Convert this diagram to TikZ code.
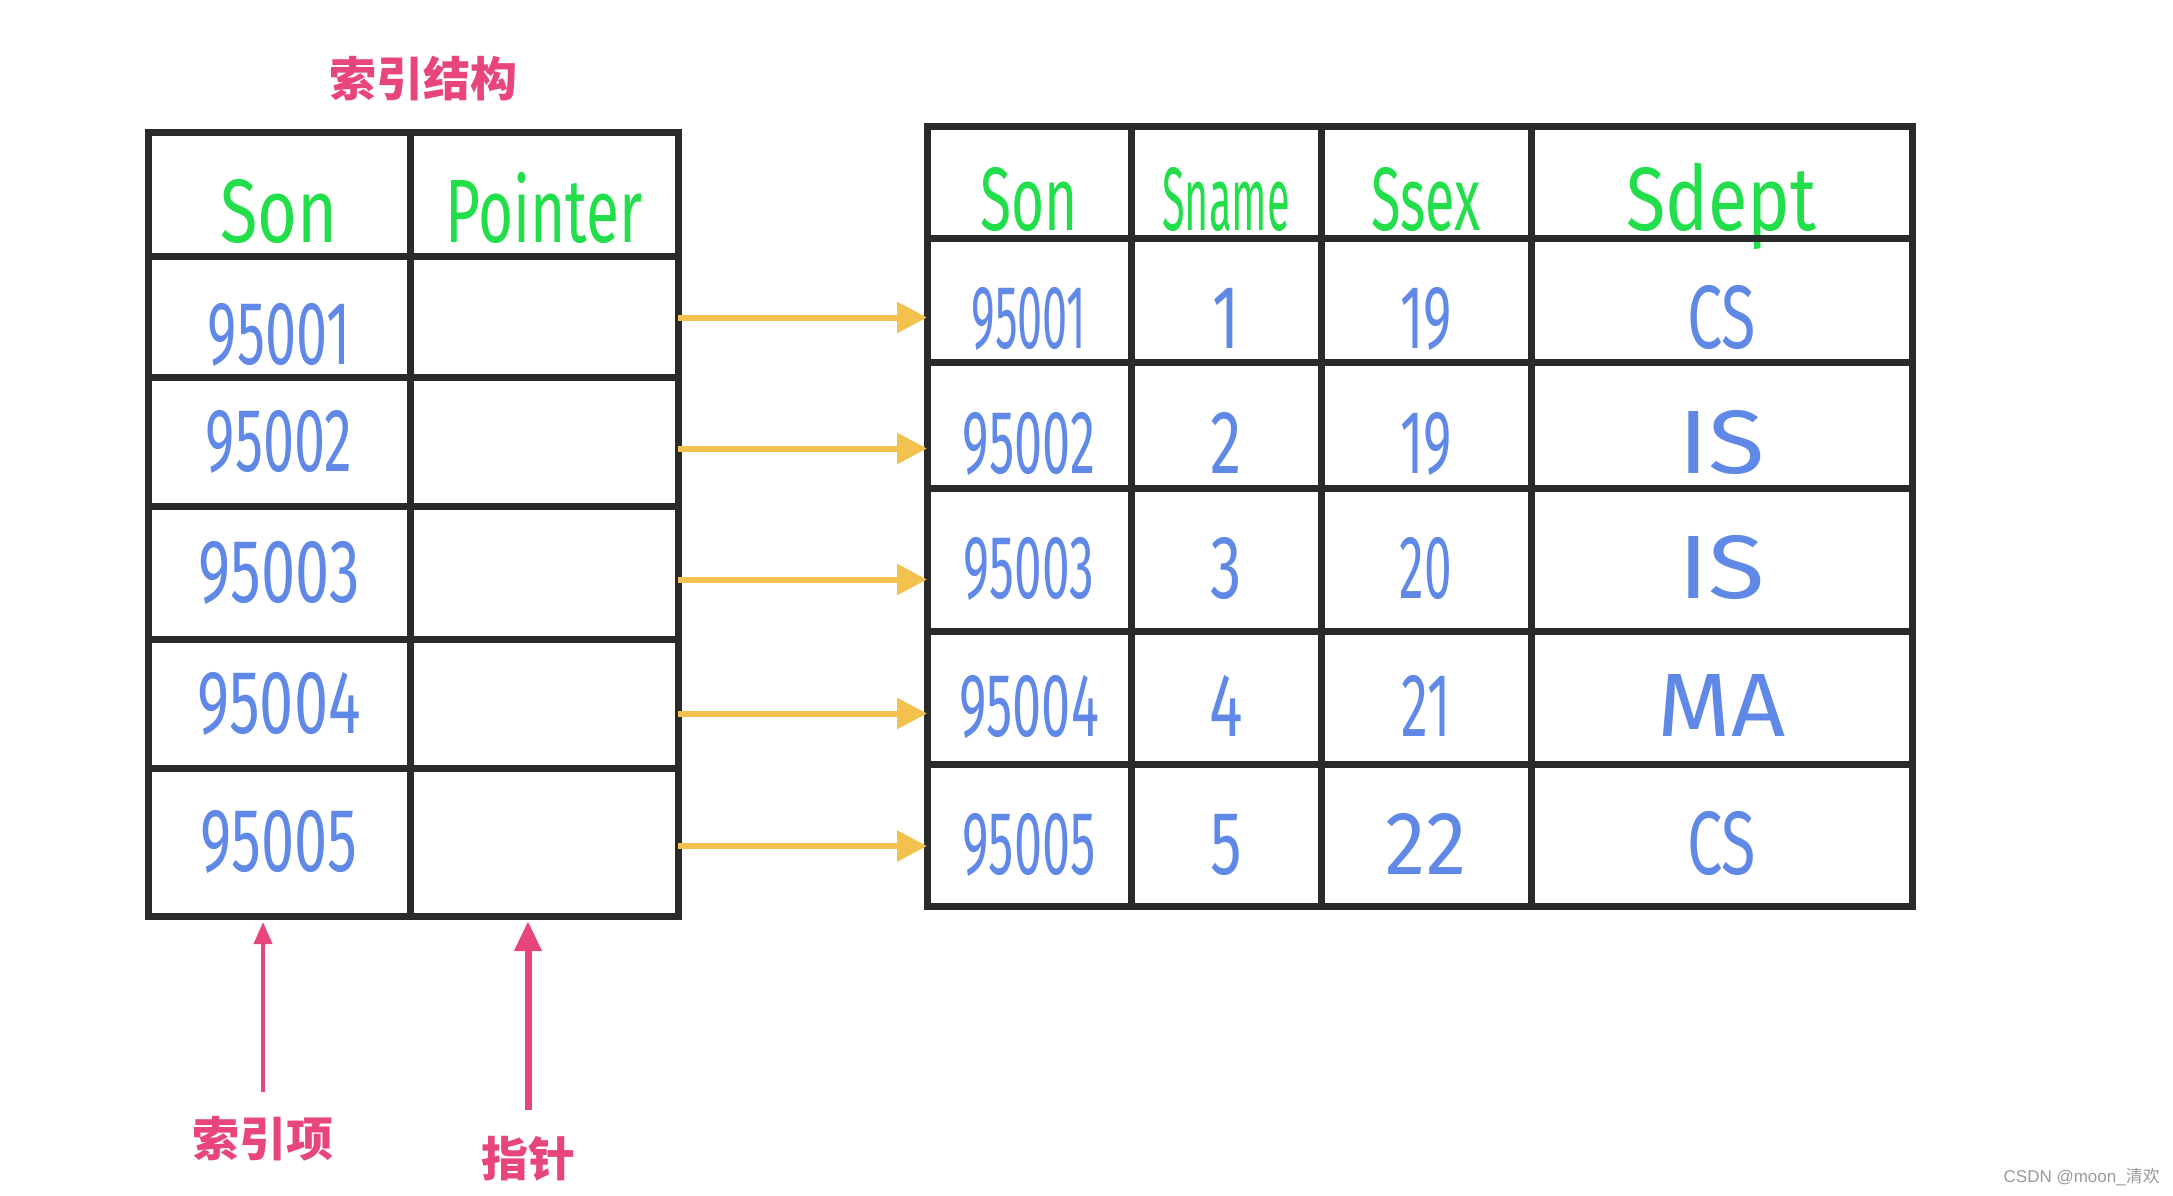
\documentclass[tikz,border=0pt]{standalone}
\usepackage{fontspec}
\usetikzlibrary{arrows.meta}
\setmainfont{Liberation Sans}
\newfontfamily\cjk{Noto Sans CJK SC}
\newfontfamily\hwfont{Fira Sans}
\definecolor{ink}{HTML}{2A2A2A}
\definecolor{hgreen}{HTML}{22DE4A}
\definecolor{hblue}{HTML}{6088E6}
\definecolor{pinkc}{HTML}{E8457C}
\definecolor{gold}{HTML}{F2C14E}
\definecolor{wmc}{HTML}{9A9A9A}
\newcommand\hw[2]{\scalebox{#1}[1]{#2}}
\begin{document}
\begin{tikzpicture}[x=1pt,y=-1pt,
  cell/.style={draw=ink, line width=7pt, inner sep=0pt, outer sep=0pt, anchor=north west, rectangle},
  hd/.style={text=hgreen, font=\hwfont\fontsize{90}{90}\selectfont, text height=96pt, text depth=0pt},
  vl/.style={text=hblue, font=\hwfont\fontsize{90}{90}\selectfont},
  low/.style={text height=96pt, text depth=0pt},
  lowish/.style={text height=78pt, text depth=0pt},
  lbl/.style={text=pinkc, font=\cjk\bfseries\fontsize{47}{47}\selectfont, inner sep=0pt},
  goldarrow/.style={draw=gold, line width=6pt, -{Triangle[length=30pt,width=30pt]}},
  pinkthin/.style={draw=pinkc, line width=4pt, -{Triangle[length=22pt,width=18pt]}},
  pinkthick/.style={draw=pinkc, line width=7pt, -{Triangle[length=30pt,width=26pt]}}
]
\fill[white] (0,0) rectangle (2173,1195);
\useasboundingbox (0,0) rectangle (2173,1195);

% title
\node[lbl] (ttl) at (423,79) {索引结构};

% ---- left (index) table ----
\node[cell, hd, minimum width=262pt, minimum height=124pt] (L0a) at (148,132) {\hw{0.76}{Son}};
\node[cell, hd, minimum width=268pt, minimum height=124pt] (L0b) at (410,132) {\hw{0.67}{Pointer}};
\node[cell, vl, low, minimum width=262pt, minimum height=121pt] (L1a) at (148,256) {\hw{0.62}{95001}};
\node[cell,     minimum width=268pt, minimum height=121pt] (L1b) at (410,256) {};
\node[cell, vl, minimum width=262pt, minimum height=129pt] (L2a) at (148,377) {\hw{0.62}{95002}};
\node[cell,     minimum width=268pt, minimum height=129pt] (L2b) at (410,377) {};
\node[cell, vl, minimum width=262pt, minimum height=133pt] (L3a) at (148,506) {\hw{0.68}{95003}};
\node[cell,     minimum width=268pt, minimum height=133pt] (L3b) at (410,506) {};
\node[cell, vl, minimum width=262pt, minimum height=129pt] (L4a) at (148,639) {\hw{0.68}{95004}};
\node[cell,     minimum width=268pt, minimum height=129pt] (L4b) at (410,639) {};
\node[cell, vl, minimum width=262pt, minimum height=148pt] (L5a) at (148,768) {\hw{0.66}{95005}};
\node[cell,     minimum width=268pt, minimum height=148pt] (L5b) at (410,768) {};

% ---- right (data) table ----
\node[cell, hd, minimum width=204pt, minimum height=112pt] (R0a) at (927,126) {\hw{0.63}{Son}};
\node[cell, hd, minimum width=190pt, minimum height=112pt] (R0b) at (1131,126) {\hw{0.46}{Sname}};
\node[cell, hd, minimum width=210pt, minimum height=112pt] (R0c) at (1321,126) {\hw{0.6}{Ssex}};
\node[cell, hd, minimum width=381pt, minimum height=112pt] (R0d) at (1531,126) {\hw{0.8}{Sdept}};

\node[cell, vl, low, minimum width=204pt, minimum height=124pt] (R1a) at (927,238) {\hw{0.5}{95001}};
\node[cell, vl, low, minimum width=190pt, minimum height=124pt] (R1b) at (1131,238) {\hw{0.7}{1}};
\node[cell, vl, low, minimum width=210pt, minimum height=124pt] (R1c) at (1321,238) {\hw{0.6}{19}};
\node[cell, vl, low, minimum width=381pt, minimum height=124pt] (R1d) at (1531,238) {\hw{0.7}{CS}};

\node[cell, vl, low, minimum width=204pt, minimum height=126pt] (R2a) at (927,362) {\hw{0.56}{95002}};
\node[cell, vl, low, minimum width=190pt, minimum height=126pt] (R2b) at (1131,362) {\hw{0.7}{2}};
\node[cell, vl, low, minimum width=210pt, minimum height=126pt] (R2c) at (1321,362) {\hw{0.6}{19}};
\node[cell, vl, low, minimum width=381pt, minimum height=126pt] (R2d) at (1531,362) {\hw{1.15}{IS}};

\node[cell, vl, lowish, minimum width=204pt, minimum height=143pt] (R3a) at (927,488) {\hw{0.55}{95003}};
\node[cell, vl, lowish, minimum width=190pt, minimum height=143pt] (R3b) at (1131,488) {\hw{0.7}{3}};
\node[cell, vl, lowish, minimum width=210pt, minimum height=143pt] (R3c) at (1321,488) {\hw{0.55}{20}};
\node[cell, vl, lowish, minimum width=381pt, minimum height=143pt] (R3d) at (1531,488) {\hw{1.15}{IS}};

\node[cell, vl, lowish, minimum width=204pt, minimum height=133pt] (R4a) at (927,631) {\hw{0.58}{95004}};
\node[cell, vl, lowish, minimum width=190pt, minimum height=133pt] (R4b) at (1131,631) {\hw{0.7}{4}};
\node[cell, vl, lowish, minimum width=210pt, minimum height=133pt] (R4c) at (1321,631) {\hw{0.6}{21}};
\node[cell, vl, lowish, minimum width=381pt, minimum height=133pt] (R4d) at (1531,631) {\hw{1.05}{MA}};

\node[cell, vl, lowish, minimum width=204pt, minimum height=142pt] (R5a) at (927,764) {\hw{0.56}{95005}};
\node[cell, vl, lowish, minimum width=190pt, minimum height=142pt] (R5b) at (1131,764) {\hw{0.7}{5}};
\node[cell, vl, lowish, minimum width=210pt, minimum height=142pt] (R5c) at (1321,764) {\hw{0.9}{22}};
\node[cell, vl, lowish, minimum width=381pt, minimum height=142pt] (R5d) at (1531,764) {\hw{0.7}{CS}};

% ---- pointers ----
\draw[goldarrow] ([yshift=-1pt]L1b.east) -- ([yshift=-1pt]L1b.east -| R1a.west);
\draw[goldarrow] ([yshift=-7pt]L2b.east) -- ([yshift=-7pt]L2b.east -| R2a.west);
\draw[goldarrow] ([yshift=-7pt]L3b.east) -- ([yshift=-7pt]L3b.east -| R3a.west);
\draw[goldarrow] ([yshift=-10pt]L4b.east) -- ([yshift=-10pt]L4b.east -| R4a.west);
\draw[goldarrow] ([yshift=-4pt]L5b.east) -- ([yshift=-4pt]L5b.east -| R5a.west);

% ---- bottom labels ----
\node[lbl] (ix) at (263,1139) {索引项};
\node[lbl] (pt) at (528,1159) {指针};
\draw[pinkthin, shorten <=24pt, shorten >=6pt] (ix.north) -- (ix.north |- L5a.south);
\draw[pinkthick, shorten <=26pt, shorten >=5pt] (pt.north) -- (pt.north |- L5b.south);

% watermark
\node[anchor=east, text=wmc, font=\fontsize{17}{17}\selectfont, inner sep=0pt] (wmk) at (2160,1177) {CSDN @moon\_{\cjk 清欢}};
\end{tikzpicture}
\end{document}
